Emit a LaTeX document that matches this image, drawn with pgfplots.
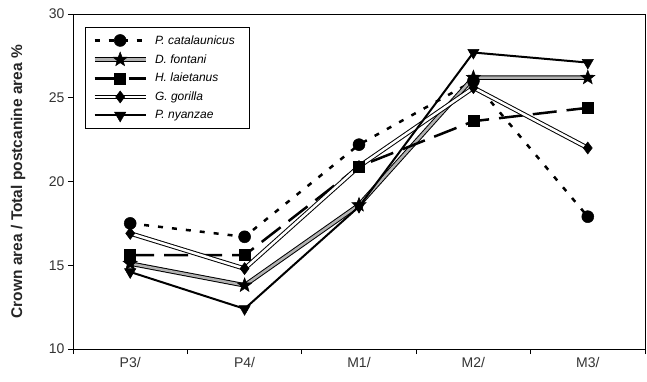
\documentclass[border=0pt]{standalone}
\usepackage{fontspec}
\setmainfont{Liberation Sans}
\usepackage{pgfplots}
\pgfplotsset{compat=1.18}
\pgfdeclareplotmark{fstar}{%
  \pgfpathmoveto{\pgfpointpolar{90}{\pgfplotmarksize}}%
  \pgfpathlineto{\pgfpointpolar{126}{0.42\pgfplotmarksize}}%
  \pgfpathlineto{\pgfpointpolar{162}{\pgfplotmarksize}}%
  \pgfpathlineto{\pgfpointpolar{198}{0.42\pgfplotmarksize}}%
  \pgfpathlineto{\pgfpointpolar{234}{\pgfplotmarksize}}%
  \pgfpathlineto{\pgfpointpolar{270}{0.42\pgfplotmarksize}}%
  \pgfpathlineto{\pgfpointpolar{306}{\pgfplotmarksize}}%
  \pgfpathlineto{\pgfpointpolar{342}{0.42\pgfplotmarksize}}%
  \pgfpathlineto{\pgfpointpolar{18}{\pgfplotmarksize}}%
  \pgfpathlineto{\pgfpointpolar{54}{0.42\pgfplotmarksize}}%
  \pgfpathclose
  \pgfusepathqfillstroke}
\begin{document}
\begin{tikzpicture}
\useasboundingbox (0,0) rectangle (647pt,381pt);
\begin{axis}[
  at={(73pt,32pt)}, anchor=south west,
  width=572pt, height=335pt, scale only axis,
  xmin=-0.5, xmax=4.5, ymin=10, ymax=30,
  xtick={0,1,2,3,4}, xticklabels={P3/,P4/,M1/,M2/,M3/},
  major x tick style={draw=none},
  minor xtick={-0.5,0.5,1.5,2.5,3.5,4.5},
  ytick={10,15,20,25,30},
  tick align=outside, tick pos=left,
  major tick length=5pt, minor tick length=5pt,
  axis line style={line width=1pt},
  tick style={line width=0.8pt, black},
  /pgf/number format/assume math mode=true,
  ticklabel style={font=\fontsize{14}{16}\selectfont, text=black!80},
  ylabel={\bfseries Crown area / Total postcanine area \%},
  ylabel style={font=\fontsize{15.5}{17}\selectfont, text=black!85, at={(-44pt,0.5)}, anchor=south},
  legend cell align=left,
  legend style={at={(0.021,0.961)}, anchor=north west, draw=black, line width=0.6pt,
    font=\fontsize{12}{14}\selectfont\itshape, row sep=4.5pt, inner xsep=7pt, inner ysep=6pt,
    nodes={inner xsep=7pt}},
  legend image code/.code={\draw[#1, mark repeat=2, mark phase=2] plot coordinates {(0cm,0cm) (0.9cm,0cm) (1.8cm,0cm)};},
]
\addplot[black, line width=2.5pt, dash pattern=on 5pt off 9pt, mark=*, mark size=6pt, mark options={solid, fill=black, line width=0.5pt}]
  coordinates {(0,17.5) (1,16.7) (2,22.2) (3,26.0) (4,17.9)};
\addlegendentry{P. catalaunicus}
\addplot[draw=black, line width=1pt, double=gray!60, double distance=2.5pt, mark=fstar, mark size=7.5pt, mark options={solid, fill=black, line width=0.5pt}]
  coordinates {(0,15.1) (1,13.8) (2,18.6) (3,26.2) (4,26.2)};
\addlegendentry{D. fontani}
\addplot[black, line width=2.5pt, dash pattern=on 24pt off 10pt, mark=square*, mark size=5.5pt, mark options={solid, fill=black, line width=0.5pt}]
  coordinates {(0,15.6) (1,15.6) (2,20.9) (3,23.6) (4,24.4)};
\addlegendentry{H. laietanus}
\addplot[draw=black, line width=1pt, double=white, double distance=2.5pt, mark=diamond*, mark size=6pt, mark options={solid, fill=black, line width=0.5pt}]
  coordinates {(0,16.9) (1,14.8) (2,20.9) (3,25.6) (4,22.0)};
\addlegendentry{G. gorilla}
\addplot[black, line width=2pt, mark=triangle*, mark size=6.5pt, mark options={solid, fill=black, rotate=180, line width=0.5pt}]
  coordinates {(0,14.6) (1,12.4) (2,18.5) (3,27.7) (4,27.1)};
\addlegendentry{P. nyanzae}
\end{axis}
\end{tikzpicture}
\end{document}
